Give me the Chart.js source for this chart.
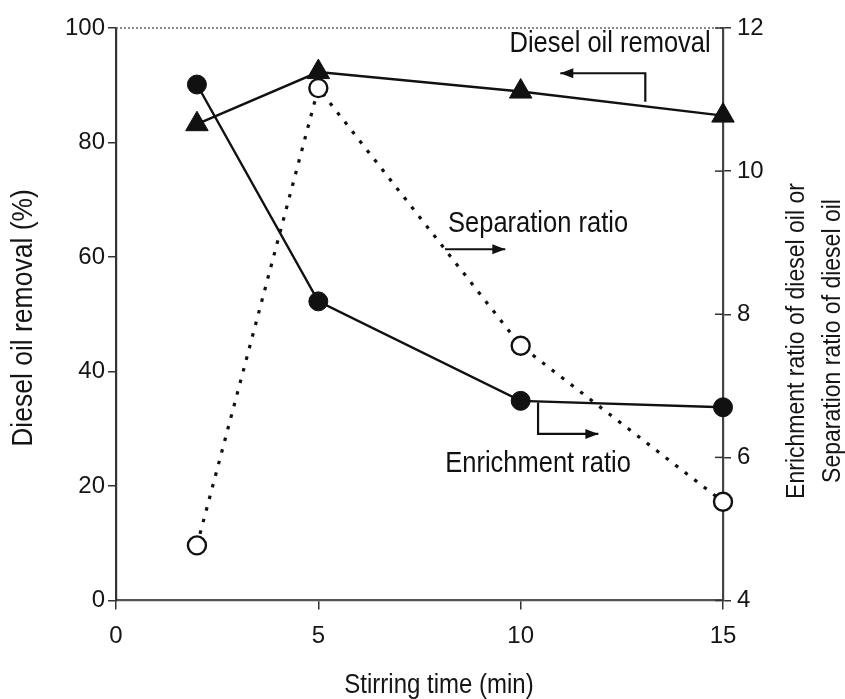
<!DOCTYPE html>
<html lang="en">
<head>
<meta charset="UTF-8">
<title>Diesel oil removal vs stirring time</title>
<script src="https://cdn.jsdelivr.net/npm/chart.js@4.4.1/dist/chart.umd.min.js"></script>
<style>
  html, body { margin: 0; padding: 0; background: #fff; }
  canvas { display: block; }
</style>
</head>
<body>
<canvas id="chart" width="845" height="699"></canvas>
<script>
// stirring time (min)
const stirTime = [2, 5, 10, 15];
// left axis (%)
const dieselRemoval = [83.2, 92.3, 88.9, 84.7];
// right axis
const enrichmentRatio = [11.21, 8.18, 6.79, 6.70];
const separationRatio = [4.77, 11.16, 7.56, 5.38];

const timeTicks = [0, 5, 10, 15];
const removalTicks = [0, 20, 40, 60, 80, 100];
const ratioTicks = [4, 6, 8, 10, 12];

// labels inside the plot, placed in (time, % removal) units
const notes = [
  { text: 'Diesel oil removal', at: [12.21, 97.2], arrow: [[13.08, 87.1], [13.08, 92.1], [10.98, 92.1]] },
  { text: 'Separation ratio', at: [10.43, 65.7], arrow: [[8.13, 61.35], [9.62, 61.35]] },
  { text: 'Enrichment ratio', at: [10.43, 23.75], arrow: [[10.43, 34.6], [10.43, 29.1], [11.92, 29.1]] }
];

const FONT = "'Liberation Sans', Arial, Helvetica, sans-serif";
const INK = '#111';
const STRETCH = 1.12; // text in the scan is a little taller than plain Arial
Chart.defaults.font.family = FONT;
Chart.defaults.color = '#151515';

const toPoints = ys => stirTime.map((x, i) => ({ x: x, y: ys[i] }));

function arrowHead(ctx, x0, y0, x1, y1) {
  const a = Math.atan2(y1 - y0, x1 - x0);
  const len = 13, half = 5;
  ctx.beginPath();
  ctx.moveTo(x1, y1);
  ctx.lineTo(x1 - len * Math.cos(a) + half * Math.sin(a), y1 - len * Math.sin(a) - half * Math.cos(a));
  ctx.lineTo(x1 - len * Math.cos(a) - half * Math.sin(a), y1 - len * Math.sin(a) + half * Math.cos(a));
  ctx.closePath();
  ctx.fill();
}

// draw text centred at (x, y), rotated by rot, stretched along the glyph height
function label(ctx, text, x, y, size, rot, dy) {
  ctx.save();
  ctx.font = size + 'px ' + FONT;
  ctx.translate(x, y);
  ctx.rotate(rot || 0);
  ctx.scale(1, STRETCH);
  ctx.fillText(text, 0, (dy || 0) / STRETCH);
  ctx.restore();
}

const decor = {
  id: 'decor',
  beforeDatasetsDraw(chart) {
    const { ctx, chartArea: a, scales } = chart;
    ctx.save();
    // dotted frame on top
    ctx.strokeStyle = '#666';
    ctx.lineWidth = 1.5;
    ctx.setLineDash([2, 2]);
    ctx.beginPath();
    ctx.moveTo(a.left, a.top);
    ctx.lineTo(a.right, a.top);
    ctx.stroke();
    ctx.setLineDash([]);
    // right axis ticks cross the axis
    ctx.strokeStyle = '#333';
    ctx.lineWidth = 1.5;
    ratioTicks.forEach(v => {
      const y = scales.y2.getPixelForValue(v);
      ctx.beginPath();
      ctx.moveTo(a.right - 8, y);
      ctx.lineTo(a.right, y);
      ctx.stroke();
    });
    ctx.restore();
  },
  afterDraw(chart) {
    const { ctx, scales } = chart;
    const sx = scales.x, sy = scales.y;
    ctx.save();
    ctx.fillStyle = '#151515';
    ctx.textAlign = 'center';
    ctx.textBaseline = 'middle';

    // axis titles
    label(ctx, 'Stirring time (min)', 439, 686, 24);
    label(ctx, 'Diesel oil removal (%)', 24, 318, 26.5, -Math.PI / 2);
    label(ctx, 'Enrichment ratio of diesel oil or', 797, 341, 23, -Math.PI / 2);
    label(ctx, 'Separation ratio of diesel oil', 797, 341, 23, -Math.PI / 2, 36);

    // in-plot labels with arrows
    ctx.strokeStyle = INK;
    ctx.fillStyle = INK;
    ctx.lineWidth = 2.2;
    notes.forEach(n => {
      label(ctx, n.text, sx.getPixelForValue(n.at[0]), sy.getPixelForValue(n.at[1]), 25.5);
      const pts = n.arrow.map(p => [sx.getPixelForValue(p[0]), sy.getPixelForValue(p[1])]);
      ctx.beginPath();
      pts.forEach((p, i) => i ? ctx.lineTo(p[0], p[1]) : ctx.moveTo(p[0], p[1]));
      ctx.stroke();
      const p0 = pts[pts.length - 2], p1 = pts[pts.length - 1];
      arrowHead(ctx, p0[0], p0[1], p1[0], p1[1]);
    });
    ctx.restore();
  }
};

const canvas = document.getElementById('chart');
new Chart(canvas, {
  type: 'line',
  data: {
    datasets: [{
      label: 'Diesel oil removal',
      data: toPoints(dieselRemoval),
      yAxisID: 'y',
      borderColor: INK,
      borderWidth: 2.4,
      pointStyle: 'triangle',
      pointRadius: 13,
      pointBackgroundColor: INK,
      pointBorderColor: INK,
      pointBorderWidth: 1
    }, {
      label: 'Separation ratio',
      data: toPoints(separationRatio),
      yAxisID: 'y2',
      borderColor: INK,
      borderWidth: 3.2,
      borderDash: [3.5, 8.5],
      pointStyle: 'circle',
      pointRadius: 9,
      pointBackgroundColor: '#fff',
      pointBorderColor: INK,
      pointBorderWidth: 2.4
    }, {
      label: 'Enrichment ratio',
      data: toPoints(enrichmentRatio),
      yAxisID: 'y2',
      borderColor: INK,
      borderWidth: 2.4,
      pointStyle: 'circle',
      pointRadius: 9.5,
      pointBackgroundColor: INK,
      pointBorderColor: INK,
      pointBorderWidth: 1
    }]
  },
  options: {
    responsive: false,
    animation: false,
    events: [],
    clip: false,
    elements: { line: { tension: 0, fill: false } },
    layout: { padding: { top: 28, left: 0, right: 0, bottom: 0 } },
    plugins: { legend: { display: false }, tooltip: { enabled: false } },
    scales: {
      x: {
        type: 'linear',
        min: 0, max: 15,
        afterBuildTicks: s => { s.ticks = timeTicks.map(v => ({ value: v })); },
        afterFit: s => { s.height = 98.5; },
        grid: { drawOnChartArea: false, tickLength: 9, color: '#333', lineWidth: 1.5 },
        border: { color: '#555', width: 2.2 },
        ticks: { font: { size: 24 }, padding: 12, maxRotation: 0 }
      },
      y: {
        type: 'linear',
        position: 'left',
        min: 0, max: 100,
        afterBuildTicks: s => { s.ticks = removalTicks.map(v => ({ value: v })); },
        afterFit: s => { s.width = 116; },
        grid: { drawOnChartArea: false, tickLength: 8, color: '#333', lineWidth: 1.5 },
        border: { color: '#333', width: 2.2 },
        ticks: { font: { size: 24 }, padding: 3 }
      },
      y2: {
        type: 'linear',
        position: 'right',
        min: 4, max: 12,
        afterBuildTicks: s => { s.ticks = ratioTicks.map(v => ({ value: v })); },
        afterFit: s => { s.width = 122; },
        grid: { drawOnChartArea: false, tickLength: 8, color: '#333', lineWidth: 1.5 },
        border: { color: '#444', width: 2.2, dash: [3, 2] },
        ticks: { font: { size: 24 }, padding: 6 }
      }
    }
  },
  plugins: [decor]
});
</script>
</body>
</html>
